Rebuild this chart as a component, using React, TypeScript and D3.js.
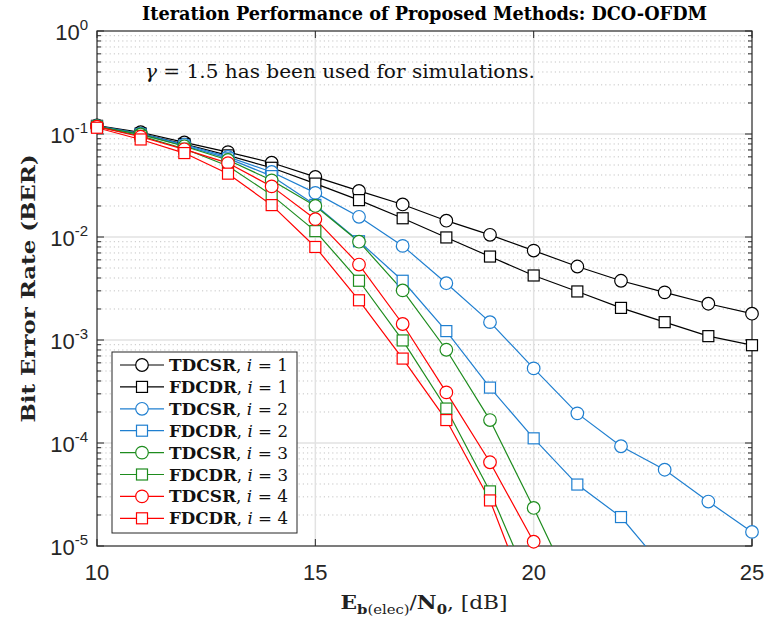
import React from "react";
import * as d3 from "d3";

const snr = [10, 11, 12, 13, 14, 15, 16, 17, 18, 19, 20, 21, 22, 23, 24, 25];
const tdcsr1 = [0.121, 0.104, 0.0828, 0.0667, 0.0526, 0.0383, 0.028, 0.0207, 0.0144, 0.0105, 0.00738, 0.00517, 0.00376, 0.0029, 0.00225, 0.0018];
const fdcdr1 = [0.12, 0.101, 0.08, 0.062, 0.047, 0.033, 0.0228, 0.0152, 0.0099, 0.00646, 0.00423, 0.00296, 0.00205, 0.00149, 0.00109, 0.00089];
const tdcsr2 = [0.12, 0.101, 0.079, 0.06, 0.0428, 0.0268, 0.0157, 0.0082, 0.00356, 0.00149, 0.00053, 0.000194, 9.3e-5, 5.5e-5, 2.7e-5, 1.37e-5];
const fdcdr2 = [0.119, 0.099, 0.077, 0.058, 0.039, 0.0205, 0.0091, 0.00376, 0.00122, 0.000345, 0.000111, 3.95e-5, 1.91e-5, 6e-6];
const tdcsr3 = [0.119, 0.099, 0.076, 0.056, 0.0355, 0.02, 0.009, 0.00303, 0.000804, 0.000167, 2.34e-5, 3e-6];
const fdcdr3 = [0.118, 0.096, 0.072, 0.049, 0.0255, 0.0114, 0.00376, 0.00099, 0.000216, 3.39e-5, 3.5e-6];
const tdcsr4 = [0.118, 0.094, 0.071, 0.0522, 0.031, 0.0149, 0.0054, 0.00143, 0.00031, 6.5e-5, 1.1e-5, 1.5e-6];
const fdcdr4 = [0.115, 0.0885, 0.0653, 0.0412, 0.0204, 0.008, 0.00243, 0.00066, 0.000167, 2.77e-5, 2.2e-6];

const seriesNames = ["TDCSR", "FDCDR", "TDCSR", "FDCDR", "TDCSR", "FDCDR", "TDCSR", "FDCDR"];
const seriesIter = [1, 1, 2, 2, 3, 3, 4, 4];
const seriesData = [tdcsr1, fdcdr1, tdcsr2, fdcdr2, tdcsr3, fdcdr3, tdcsr4, fdcdr4];
const seriesColor = ["#000000", "#000000", "#1f7fd0", "#1f7fd0", "#1e8c1e", "#1e8c1e", "#ff0000", "#ff0000"];
const seriesMarker = ["circle", "square", "circle", "square", "circle", "square", "circle", "square"];

const xTicks = [10, 15, 20, 25];
const yExps = [0, -1, -2, -3, -4, -5];

const W = 767, H = 622;
const L = 97, R = 752, T = 31, B = 546;

export default function App() {
  const x = d3.scaleLinear().domain([10, 25]).range([L, R]);
  const y = d3.scaleLog().domain([1e-5, 1]).range([B, T]);
  const line = d3.line<[number, number]>().x(d => x(d[0])).y(d => y(d[1]));

  const minors: number[] = [];
  for (let e = -5; e < 0; e++) for (let k = 2; k <= 9; k++) minors.push(k * Math.pow(10, e));
  const axisColor = "#262626";

  const legX = 112, legY = 352, legW = 185, legH = 181;
  const rowH = 21.9, row0 = 365;

  const marker = (type: string, cx: number, cy: number, color: string, key: string) =>
    type === "circle" ? (
      <circle key={key} cx={cx} cy={cy} r={6.3} fill="white" stroke={color} strokeWidth={1.2} />
    ) : (
      <rect key={key} x={cx - 5.5} y={cy - 5.5} width={11} height={11} fill="white" stroke={color} strokeWidth={1.2} />
    );

  return (
    <svg width={W} height={H} style={{ position: "absolute", left: 0, top: 0, background: "white" }}
      fontFamily="'DejaVu Serif', serif">
      <defs>
        <clipPath id="plotclip">
          <rect x={L} y={T} width={R - L} height={B - T} />
        </clipPath>
      </defs>
      <rect x={0} y={0} width={W} height={H} fill="white" />
      {minors.map((v, i) => (
        <line key={"mg" + i} x1={L} x2={R} y1={y(v)} y2={y(v)} stroke="#c4c4c4" strokeWidth={1} strokeDasharray="1.2,3" />
      ))}
      {yExps.slice(1, 5).map(e => (
        <line key={"My" + e} x1={L} x2={R} y1={y(Math.pow(10, e))} y2={y(Math.pow(10, e))} stroke="#e2e2e2" strokeWidth={1.5} />
      ))}
      {xTicks.slice(1, 3).map(t => (
        <line key={"Mx" + t} x1={x(t)} x2={x(t)} y1={T} y2={B} stroke="#e2e2e2" strokeWidth={1.5} />
      ))}
      <rect x={L} y={T} width={R - L} height={B - T} fill="none" stroke={axisColor} strokeWidth={1.2} />
      {yExps.map(e => (
        <g key={"yt" + e}>
          <line x1={L} x2={L + 7} y1={y(Math.pow(10, e))} y2={y(Math.pow(10, e))} stroke={axisColor} />
          <line x1={R} x2={R - 7} y1={y(Math.pow(10, e))} y2={y(Math.pow(10, e))} stroke={axisColor} />
        </g>
      ))}
      {minors.map((v, i) => (
        <g key={"ymt" + i}>
          <line x1={L} x2={L + 4} y1={y(v)} y2={y(v)} stroke={axisColor} />
          <line x1={R} x2={R - 4} y1={y(v)} y2={y(v)} stroke={axisColor} />
        </g>
      ))}
      {xTicks.map(t => (
        <g key={"xt" + t}>
          <line x1={x(t)} x2={x(t)} y1={B} y2={B - 7} stroke={axisColor} />
          <line x1={x(t)} x2={x(t)} y1={T} y2={T + 7} stroke={axisColor} />
        </g>
      ))}
      {xTicks.map(t => (
        <text key={"xl" + t} x={x(t)} y={580} textAnchor="middle" fontFamily="'Liberation Sans', Arial, sans-serif"
          fontSize={22} fill={axisColor}>{t}</text>
      ))}
      {yExps.map(e => (
        <text key={"yl" + e} x={88} y={y(Math.pow(10, e)) + 9} textAnchor="end"
          fontFamily="'Liberation Sans', Arial, sans-serif" fontSize={22} fill={axisColor}>
          10<tspan fontSize={15} dy={-10}>{e}</tspan>
        </text>
      ))}
      <g clipPath="url(#plotclip)">
        {seriesData.map((vals, si) => (
          <path key={"ln" + si} d={line(vals.map((v, i) => [snr[i], v] as [number, number])) || ""}
            fill="none" stroke={seriesColor[si]} strokeWidth={1.2} />
        ))}
      </g>
      {seriesData.map((vals, si) => (
        <g key={"mk" + si}>
          {vals.map((v, i) => v >= 1e-5 ? marker(seriesMarker[si], x(snr[i]), y(v), seriesColor[si], si + "-" + i) : null)}
        </g>
      ))}
      <text x={(L + R) / 2} y={20} textAnchor="middle" fontWeight="bold" fontSize={18} fill="#000"
        textLength={565} lengthAdjust="spacingAndGlyphs">Iteration Performance of Proposed Methods: DCO-OFDM</text>
      <text x={145} y={78} fontSize={18} fill="#111" textLength={390} lengthAdjust="spacingAndGlyphs">
        <tspan fontStyle="italic">γ</tspan> = 1.5 has been used for simulations.
      </text>
      <text transform={`translate(35, ${(T + B) / 2}) rotate(-90)`} textAnchor="middle" fontSize={19} fontWeight="bold" fill="#222"
        textLength={268} lengthAdjust="spacingAndGlyphs">
        Bit Error Rate (BER)
      </text>
      <text x={424} y={609} textAnchor="middle" fontSize={19} fill="#222" textLength={167} lengthAdjust="spacingAndGlyphs">
        <tspan fontWeight="bold">E</tspan>
        <tspan fontSize={13} dy={5} fontWeight="bold">b</tspan>
        <tspan fontSize={13}>(elec)</tspan>
        <tspan dy={-5}>/</tspan>
        <tspan fontWeight="bold">N</tspan>
        <tspan fontSize={13} dy={5} fontWeight="bold">0</tspan>
        <tspan dy={-5}>, [dB]</tspan>
      </text>
      <rect x={legX} y={legY} width={legW} height={legH} fill="white" stroke={axisColor} strokeWidth={1} />
      {seriesData.map((_, si) => {
        const cy = row0 + si * rowH;
        return (
          <g key={"lg" + si}>
            <line x1={120} x2={164} y1={cy} y2={cy} stroke={seriesColor[si]} strokeWidth={1.2} />
            {marker(seriesMarker[si], 142, cy, seriesColor[si], "lm" + si)}
            <text x={169} y={cy + 6} fontSize={16.5} fill="#111" textLength={119} lengthAdjust="spacingAndGlyphs">
              <tspan fontWeight="bold">{seriesNames[si]}</tspan>, <tspan fontStyle="italic">i</tspan> = {seriesIter[si]}
            </text>
          </g>
        );
      })}
    </svg>
  );
}
